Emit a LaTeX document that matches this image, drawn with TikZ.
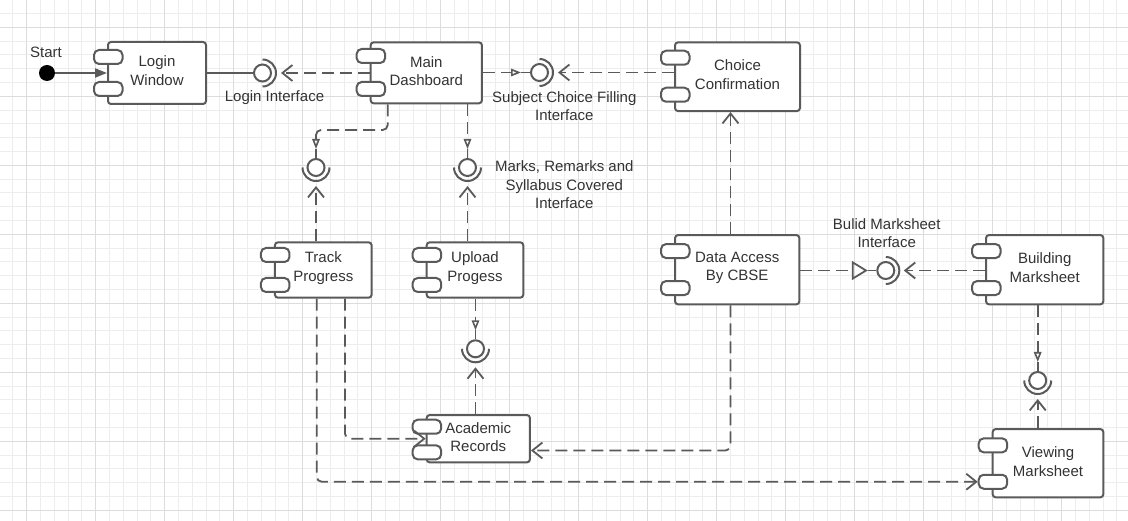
\documentclass[tikz,border=0pt]{standalone}
\usepackage{fontspec}
\setmainfont{Liberation Sans}
\usetikzlibrary{arrows.meta,calc}
\definecolor{ln}{HTML}{5A5A5A}
\definecolor{txt}{HTML}{333333}
\definecolor{gmin}{HTML}{EDEDED}
\definecolor{gmaj}{HTML}{DCDCDC}
\newcommand\comptabs[3]{%
  \node[tabst] (#1-t1) at ($(#1.north west)+(1.25,#2+7)$) {};
  \node[tabst] (#1-t2) at ($(#1.south west)+(1.25,-#3-7)$) {};
}
\newcommand\sockright[1]{%
  \draw[sockst] ($(#1)+(0,-13.5)$) arc[start angle=90, end angle=-90, radius=13.5pt];
}
\newcommand\sockdown[1]{%
  \draw[sockst] ($(#1)+(-13.5,0)$) arc[start angle=180, end angle=360, radius=13.5pt];
}
\newcommand\lowstrut[1]{\rule[-#1]{0pt}{0pt}}
\begin{document}
\begin{tikzpicture}[x=1pt,y=-1pt,
  comp/.style={draw=ln, line width=2pt, rounded corners=3pt, fill=white, align=center,
    text=txt, font=\fontsize{15}{18.3}\selectfont, inner sep=0pt},
  tabst/.style={draw=ln, line width=2pt, rounded corners=5pt, fill=white,
    minimum width=28.5pt, minimum height=14pt, inner sep=0pt},
  lolli/.style={circle, draw=ln, line width=2pt, fill=white, minimum size=17pt, inner sep=0pt},
  sockst/.style={draw=ln, line width=2pt},
  lbl/.style={text=txt, align=center, font=\fontsize{15}{18.3}\selectfont, inner sep=0pt},
  solidl/.style={draw=ln, line width=1.8pt},
  dep/.style={draw=ln, line width=1.8pt, dash pattern=on 12pt off 6pt,
    -{Straight Barb[length=10pt,width=16pt,line width=1.8pt]}},
  real/.style={draw=ln, line width=1.8pt, dash pattern=on 12pt off 6pt,
    -{Triangle[open,length=10pt,width=7.5pt,line width=1.6pt]}},
  realbig/.style={draw=ln, line width=1.8pt, dash pattern=on 12pt off 6pt,
    -{Triangle[open,length=16pt,width=19pt,line width=1.8pt]}},
]
\useasboundingbox (0,0) rectangle (1128,521);
\fill[white] (0,0) rectangle (1128,521);
% grid
\foreach \i in {1,...,81} \draw[gmin, line width=1pt] ({13.8*\i-0.9},0) -- ({13.8*\i-0.9},521);
\foreach \j in {1,...,37} \draw[gmin, line width=1pt] (0,{13.8*\j-0.3}) -- (1128,{13.8*\j-0.3});
\foreach \i in {0,...,15} \draw[gmaj, line width=1.3pt] ({26.7+69*\i},0) -- ({26.7+69*\i},521);
\foreach \j in {0,...,7} \draw[gmaj, line width=1.3pt] (0,{27.3+69*\j}) -- (1128,{27.3+69*\j});

% components
\node[comp, minimum width=98pt, minimum height=62pt] (login) at (157,73) {Login\\Window\lowstrut{5pt}};
\node[comp, minimum width=111.3pt, minimum height=61pt] (dash) at (426.3,72.8) {Main\\Dashboard\lowstrut{4pt}};
\node[comp, minimum width=125pt, minimum height=68.7pt] (choice) at (737.5,76.7) {Choice\\Confirmation\lowstrut{4pt}};
\node[comp, minimum width=96.7pt, minimum height=55.4pt] (track) at (323.3,270) {Track\\Progress\lowstrut{7pt}};
\node[comp, minimum width=96.6pt, minimum height=55.4pt] (upload) at (475,270) {Upload\\Progess\lowstrut{7pt}};
\node[comp, minimum width=103.3pt, minimum height=47.3pt] (academic) at (478.3,438.7) {Academic\\Records\lowstrut{3pt}};
\node[comp, minimum width=124.3pt, minimum height=69.3pt] (access) at (737.2,269.7) {Data Access\\By CBSE\lowstrut{7pt}};
\node[comp, minimum width=117.3pt, minimum height=69.3pt] (build) at (1044.7,269.7) {Building\\Marksheet\lowstrut{4pt}};
\node[comp, minimum width=110.6pt, minimum height=68.3pt] (view) at (1048,463.2) {Viewing\\Marksheet\lowstrut{3pt}};
\comptabs{login}{9}{9}
\comptabs{dash}{7.7}{8.3}
\comptabs{choice}{9.4}{10.3}
\comptabs{track}{6.7}{6.7}
\comptabs{upload}{6.7}{6.7}
\comptabs{academic}{5.7}{4}
\comptabs{access}{10}{10.3}
\comptabs{build}{10}{10.3}
\comptabs{view}{10.3}{9.6}

% start
\node[circle, fill=black, minimum size=16pt, inner sep=0pt] (start) at (47,73) {};
\node[lbl] (startl) at (46,52) {Start};
\draw[solidl, -{Triangle[length=12pt,width=9pt]}] (start) -- (login.west);

% interfaces
\node[lolli] (iLogin) at (262.5,73) {};
\node[lolli] (iChoice) at (539.5,72.5) {};
\node[lolli] (iTrack) at (316,167.5) {};
\node[lolli] (iMarks) at (467.5,167.5) {};
\node[lolli] (iUp) at (475.5,348.8) {};
\node[lolli] (iBuild) at (885.8,270.5) {};
\node[lolli] (iView) at (1037.7,380.5) {};
\sockright{iLogin}
\sockright{iChoice}
\sockright{iBuild}
\sockdown{iTrack}
\sockdown{iMarks}
\sockdown{iUp}
\sockdown{iView}

% provided-side tips
\coordinate (iChoice-p) at ($(iChoice.west)+(-9,0)$);
\coordinate (iTrack-p) at ($(iTrack.north)+(0,-9)$);
\coordinate (iMarks-p) at ($(iMarks.north)+(0,-9)$);
\coordinate (iUp-p) at ($(iUp.north)+(0,-9)$);
\coordinate (iBuild-p) at ($(iBuild.west)+(-8.5,0)$);
\coordinate (iView-p) at ($(iView.north)+(0,-9)$);
% socket-side tips
\coordinate (iLogin-s) at ($(iLogin)+(18.5,0)$);
\coordinate (iChoice-s) at ($(iChoice)+(18.5,0)$);
\coordinate (iTrack-s) at ($(iTrack)+(0,18.5)$);
\coordinate (iMarks-s) at ($(iMarks)+(0,18.5)$);
\coordinate (iUp-s) at ($(iUp)+(0,18.5)$);
\coordinate (iBuild-s) at ($(iBuild)+(18,0)$);
\coordinate (iView-s) at ($(iView)+(0,18.5)$);

% solid stubs
\draw[solidl] (login.east) -- (iLogin.west);
\draw[solidl] (iChoice-p) -- (iChoice.west);
\draw[solidl] (iTrack-p) -- (iTrack.north);
\draw[solidl] (iMarks-p) -- (iMarks.north);
\draw[solidl] (iUp-p) -- (iUp.north);
\draw[solidl] (iBuild-p) -- (iBuild.west);
\draw[solidl] (iView-p) -- (iView.north);

% realizations
\draw[real] (dash.east |- iChoice-p) -- (iChoice-p);
\draw[real, rounded corners=5pt] ($(dash.south)+(-38.6,0)$) -- ++(0,25.7) -| (iTrack-p);
\draw[real] (dash.south -| iMarks-p) -- (iMarks-p);
\draw[real] (upload.south -| iUp-p) -- (iUp-p);
\draw[realbig] (access.east |- iBuild-p) -- (iBuild-p);
\draw[real] (build.south -| iView-p) -- (iView-p);

% dependencies
\draw[dep] (dash.west |- iLogin) -- (iLogin-s);
\draw[dep] (choice.west |- iChoice) -- (iChoice-s);
\draw[dep] (track.north -| iTrack) -- (iTrack-s);
\draw[dep] (upload.north -| iMarks) -- (iMarks-s);
\draw[dep] (academic.north -| iUp) -- (iUp-s);
\draw[dep] (build.west |- iBuild) -- (iBuild-s);
\draw[dep] (view.north -| iView) -- (iView-s);
\draw[dep] ($(access.north)+(-6.7,0)$) -- ($(choice.south)+(-7,0)$);
\draw[dep, rounded corners=5pt] ($(access.south)+(-6.7,0)$) |- ($(academic.east)+(0,11.8)$);
\draw[dep, rounded corners=5pt] ($(track.south)+(21.7,0)$) |- (academic.west);
\draw[dep, rounded corners=5pt] ($(track.south)+(-6.6,0)$) |- (view-t2.west);

% labels
\node[lbl] (lLogin) at (274.5,97.5) {Login Interface};
\node[lbl] (lChoice) at (564.3,106) {Subject Choice Filling\\Interface};
\node[lbl] (lMarks) at (564.3,184.7) {Marks, Remarks and\\Syllabus Covered\\Interface};
\node[lbl] (lBuild) at (886.7,233) {Bulid Marksheet\\Interface};
\end{tikzpicture}
\end{document}
